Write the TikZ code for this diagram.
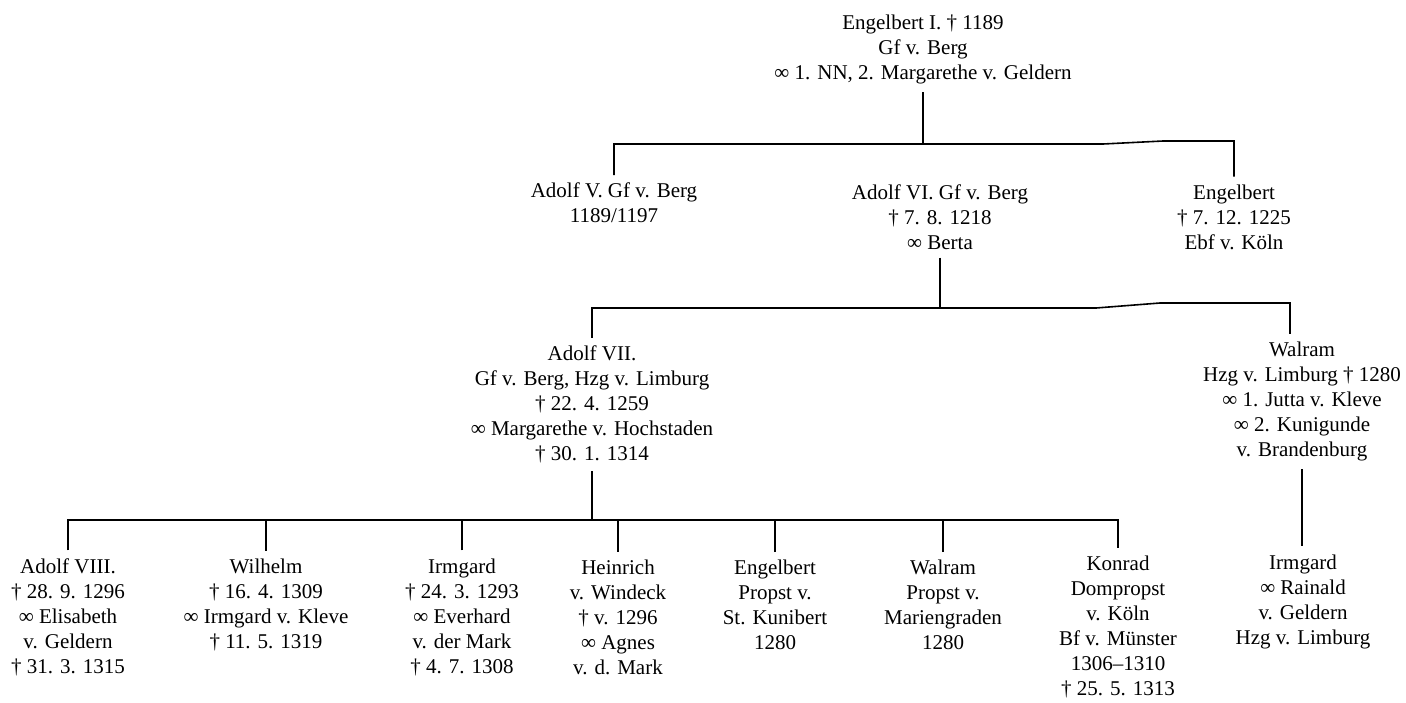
\documentclass[tikz,border=0pt]{standalone}
\usepackage{fontspec}
\setmainfont{Liberation Serif}
\begin{document}
\begin{tikzpicture}[x=0.5pt,y=-0.5pt,
  person/.style={align=center,inner sep=0pt,outer sep=4pt,font=\fontsize{10.5}{12.5}\selectfont},
  link/.style={line width=0.8pt}]
\useasboundingbox[fill=white] (0,0) rectangle (1406,702);
% generation 1
\node[person] (t) at (923,49.5) {Engelbert I. † 1189\\Gf v. Berg\\∞ 1. NN, 2. Margarethe v. Geldern};
% generation 2
\node[person] (a5) at (614,203) {Adolf V. Gf v. Berg\\1189/1197};
\node[person] (a6) at (940,217) {Adolf VI. Gf v. Berg\\† 7. 8. 1218\\∞ Berta};
\node[person] (e) at (1234,217) {Engelbert\\† 7. 12. 1225\\Ebf v. Köln};
% generation 3
\node[person] (a7) at (592,404.5) {Adolf VII.\\Gf v. Berg, Hzg v. Limburg\\† 22. 4. 1259\\∞ Margarethe v. Hochstaden\\† 30. 1. 1314};
\node[person] (w) at (1302,401.5) {Walram\\Hzg v. Limburg † 1280\\∞ 1. Jutta v. Kleve\\∞ 2. Kunigunde\\v. Brandenburg};
% generation 4
\node[person] (a8) at (68,617) {Adolf VIII.\\† 28. 9. 1296\\∞ Elisabeth\\v. Geldern\\† 31. 3. 1315};
\node[person] (wi) at (266,605) {Wilhelm\\† 16. 4. 1309\\∞ Irmgard v. Kleve\\† 11. 5. 1319};
\node[person] (ir) at (462,617) {Irmgard\\† 24. 3. 1293\\∞ Everhard\\v. der Mark\\† 4. 7. 1308};
\node[person] (he) at (618,617) {Heinrich\\v. Windeck\\† v. 1296\\∞ Agnes\\v. d. Mark};
\node[person] (en) at (775,605) {Engelbert\\Propst v.\\St. Kunibert\\1280};
\node[person] (wa) at (943,605) {Walram\\Propst v.\\Mariengraden\\1280};
\node[person] (ko) at (1118,627) {Konrad\\Dompropst\\v. Köln\\Bf v. Münster\\1306–1310\\† 25. 5. 1313};
\node[person] (irm) at (1303,601.5) {Irmgard\\∞ Rainald\\v. Geldern\\Hzg v. Limburg};
% bars
\coordinate (b1) at (0,144);
\coordinate (k1a) at (1103,144);
\coordinate (k1b) at (1163,141);
\coordinate (b2) at (0,308);
\coordinate (k2a) at (1096,308);
\coordinate (k2b) at (1160,303);
\coordinate (wtop) at (1290,303);
\coordinate (b3) at (0,520);
% connectors
\draw[link] (t.south) -- (t.south |- b1);
\draw[link] (a5.north) -- (a5.north |- b1) -- (k1a) -- (k1b) -- (k1b -| e.north) -- (e.north);
\draw[link] (a6.south) -- (a6.south |- b2);
\draw[link] (a7.north) -- (a7.north |- b2) -- (k2a) -- (k2b) -- (wtop) -- (wtop |- w.north);
\draw[link] (a7.south) -- (a7.south |- b3);
\draw[link] (a8.north) -- (a8.north |- b3) -- (ko.north |- b3) -- (ko.north);
\foreach \n in {wi,ir,he,en,wa} \draw[link] (\n.north) -- (\n.north |- b3);
\draw[link] (w.south) -- (w.south |- irm.north);
\end{tikzpicture}
\end{document}
